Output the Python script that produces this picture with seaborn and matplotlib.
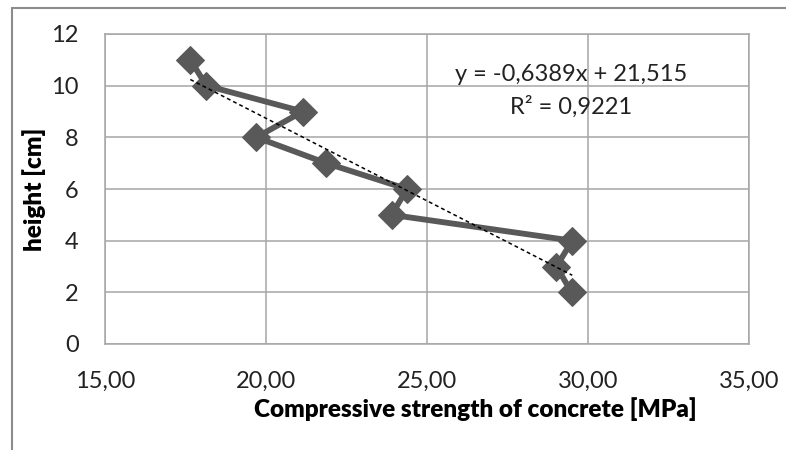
import numpy as np
import pandas as pd
import matplotlib
matplotlib.use("Agg")
import matplotlib.pyplot as plt
from matplotlib.lines import Line2D
from matplotlib.ticker import FuncFormatter
import seaborn as sns

# compressive strength [MPa] measured at each height [cm]
strength = [17.65, 18.15, 21.14, 19.70, 21.87, 24.38, 23.90, 29.51, 29.02, 29.49]
height = [11, 10, 9, 8, 7, 6, 5, 4, 3, 2]

# linear trendline reported on the chart
slope = -0.6389
intercept = 21.515
r2 = 0.9221

x_ticks = [15, 20, 25, 30, 35]
y_ticks = [0, 2, 4, 6, 8, 10, 12]

sns.set_style("white")
plt.rcParams['font.family'] = ['Lato', 'DejaVu Sans']

grid_col = '#a6a6a6'
line_col = '#595959'

df = pd.DataFrame({'strength': strength, 'height': height})

fig = plt.figure(figsize=(7.86, 4.5), dpi=100)
ax = fig.add_axes([105 / 786, 1 - 344 / 450, 644 / 786, 310 / 450])

sns.lineplot(data=df, x='strength', y='height', sort=False, ax=ax,
             color=line_col, linewidth=4.2, marker='D', markersize=14,
             markeredgecolor=line_col, zorder=3)

# trendline over data range
tx = np.array([min(strength), max(strength)])
ax.plot(tx, slope * tx + intercept, color='black', linestyle=(0, (2.5, 2)),
        linewidth=1.1, zorder=4)

ax.set_xlim(15, 35)
ax.set_ylim(0, 12)
ax.set_xticks(x_ticks)
ax.set_yticks(y_ticks)
ax.xaxis.set_major_formatter(FuncFormatter(lambda v, p: f"{v:.2f}".replace('.', ',')))
ax.grid(True, color=grid_col, linewidth=1.1)
ax.set_axisbelow(True)
for s in ax.spines.values():
    s.set_color(grid_col)
    s.set_linewidth(1.1)
ax.tick_params(axis='both', colors=grid_col, labelcolor='#222222', labelsize=17,
               length=7, width=1.1, direction='out')
ax.tick_params(axis='x', pad=12)
ax.tick_params(axis='y', pad=12)

ax.set_xlabel('Compressive strength of concrete [MPa]', fontsize=17.5,
              fontweight='heavy', color='black')
ax.xaxis.set_label_coords(0.575, -0.172)
ax.set_ylabel('height [cm]', fontsize=17.5, fontweight='heavy', color='black')
ax.yaxis.set_label_coords(-0.092, 0.5)

eq = f"y = {slope:.4f}x + {intercept:.3f}".replace('.', ',')
r2_txt = f"R² = {r2:.4f}".replace('.', ',')
ax.text(0.7236, 0.868, eq, transform=ax.transAxes, ha='center', va='center',
        fontsize=17, color='#222222')
ax.text(0.7236, 0.765, r2_txt, transform=ax.transAxes, ha='center', va='center',
        fontsize=17, color='#222222')

# chart frame (left and top edges visible)
fig.add_artist(Line2D([12 / 786, 12 / 786], [0, 1 - 8 / 450], color='#8c8c8c',
                      linewidth=1.5, transform=fig.transFigure))
fig.add_artist(Line2D([12 / 786, 1], [1 - 8 / 450, 1 - 8 / 450], color='#8c8c8c',
                      linewidth=1.5, transform=fig.transFigure))

fig.savefig('out.png', dpi=100)
